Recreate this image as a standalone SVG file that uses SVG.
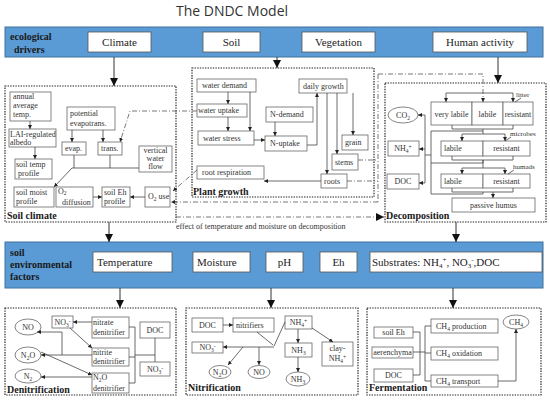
<svg xmlns="http://www.w3.org/2000/svg" width="550" height="404" viewBox="0 0 550 404">
<defs>
<marker id="a" viewBox="0 0 6 6" refX="6" refY="3" markerWidth="4" markerHeight="4" markerUnits="userSpaceOnUse" orient="auto"><path d="M0,0 L6,3 L0,6 z" fill="#222"/></marker>
<marker id="A" viewBox="0 0 6 6" refX="6" refY="3" markerWidth="8" markerHeight="8" markerUnits="userSpaceOnUse" orient="auto"><path d="M0,0 L6,3 L0,6 z" fill="#111"/></marker>
</defs>
<style>
.band{fill:#5b9bd5;stroke:#41719c;stroke-width:1}
.bb{fill:#fff;stroke:#555;stroke-width:0.8}
.panel{fill:none;stroke:#222;stroke-width:1.2;stroke-dasharray:1.4 1.2}
.box{fill:#fff;stroke:#666;stroke-width:0.8}
.t{font-family:"Liberation Serif",serif;font-size:8px;fill:#333}
.s{font-family:"Liberation Serif",serif;font-size:7px;fill:#333}
.m{text-anchor:middle}
.lbl{font-family:"Liberation Serif",serif;font-weight:bold;font-size:10px;fill:#1a1a1a}
.bt{font-family:"Liberation Serif",serif;font-size:11px;fill:#222}
.ln{stroke:#444;stroke-width:0.8;fill:none}
.mn{stroke:#333;stroke-width:1;fill:none}
.dd{stroke:#555;stroke-width:0.8;fill:none;stroke-dasharray:5 2 1 2}
.sub{font-size:5.5px}
</style>
<rect width="550" height="404" fill="#fff"/>
<text x="232" y="16" text-anchor="middle" font-family="'Open Sans',sans-serif" font-size="14" fill="#333">The DNDC Model</text>

<g id="drivers">
<rect class="band" x="5" y="27" width="538" height="30"/>
<text class="lbl" x="10" y="40">ecological</text>
<text class="lbl" x="14" y="53">drivers</text>
<rect class="bb" x="88" y="32" width="63" height="20"/><text class="bt m" x="119.5" y="46">Climate</text>
<rect class="bb" x="203" y="32" width="57" height="20"/><text class="bt m" x="231.5" y="46">Soil</text>
<rect class="bb" x="302" y="32" width="73" height="20"/><text class="bt m" x="338.5" y="46">Vegetation</text>
<rect class="bb" x="433" y="32" width="94" height="20"/><text class="bt m" x="480" y="46">Human activity</text>
</g>

<g id="soil-climate">
<rect class="panel" x="5" y="86" width="171" height="136"/>
<text class="lbl" x="7" y="219">Soil climate</text>
<rect class="box" x="10" y="92" width="41" height="29"/>
<text class="t" x="13" y="99">annual</text><text class="t" x="13" y="108">average</text><text class="t" x="13" y="117">temp.</text>
<rect class="box" x="9" y="129" width="47" height="18"/>
<text class="t" x="10" y="137">LAI-regulated</text><text class="t" x="10" y="145">albedo</text>
<rect class="box" x="15" y="159" width="37" height="20"/>
<text class="t" x="16" y="167">soil temp</text><text class="t" x="18" y="176">profile</text>
<rect class="box" x="67" y="107" width="48" height="23"/>
<text class="t" x="70" y="116">potential</text><text class="t" x="70" y="126">evapotrans.</text>
<rect class="box" x="62" y="142" width="24" height="13"/><text class="t" x="65" y="151">evap.</text>
<rect class="box" x="98" y="142" width="24" height="13"/><text class="t" x="101" y="151">trans.</text>
<rect class="box" x="139" y="146" width="33" height="26"/>
<text class="t m" x="155.5" y="153">vertical</text><text class="t m" x="155.5" y="161">water</text><text class="t m" x="155.5" y="169">flow</text>
<rect class="box" x="14" y="187" width="40" height="20"/>
<text class="t" x="16" y="195">soil moist</text><text class="t" x="16" y="204">profile</text>
<rect class="box" x="56" y="187" width="37" height="20"/>
<text class="t" x="58" y="194">O<tspan class="sub" dy="1">2</tspan></text><text class="t" x="62" y="204.5">diffusion</text>
<rect class="box" x="102" y="187" width="28" height="20"/>
<text class="t" x="104" y="195">soil Eh</text><text class="t" x="104" y="204">profile</text>
<rect class="box" x="145" y="187" width="25" height="20"/>
<text class="t" x="148" y="199">O<tspan class="sub" dy="1.5">2</tspan><tspan dy="-1.5"> use</tspan></text>
</g>

<g id="plant-growth">
<rect class="panel" x="192" y="68" width="182" height="129"/>
<text class="lbl" x="193" y="195">Plant growth</text>
<rect class="box" x="197" y="79" width="59" height="13"/><text class="t" x="202" y="88">water demand</text>
<rect class="box" x="197" y="104" width="50" height="13"/><text class="t" x="198" y="113">water uptake</text>
<rect class="box" x="198" y="131" width="56" height="14"/><text class="t" x="203" y="141">water stress</text>
<rect class="box" x="266" y="107" width="47" height="15"/><text class="t" x="270" y="117">N-demand</text>
<rect class="box" x="265" y="136" width="42" height="15"/><text class="t" x="270" y="146">N-uptake</text>
<rect class="box" x="299" y="79" width="48" height="14"/><text class="t" x="303" y="89">daily growth</text>
<rect class="box" x="342" y="135" width="26" height="15"/><text class="t" x="345" y="145">grain</text>
<rect class="box" x="332" y="154" width="26" height="16"/><text class="t" x="335" y="165">stems</text>
<rect class="box" x="321" y="174" width="26" height="14"/><text class="t" x="324" y="184">roots</text>
<rect class="box" x="197" y="166" width="67" height="13"/><text class="t" x="202" y="175">root respiration</text>
</g>

<g id="decomposition">
<rect class="panel" x="385" y="83" width="161" height="139"/>
<text class="lbl" x="386" y="219">Decomposition</text>
<rect class="box" x="431" y="102" width="41" height="23"/><text class="t m" x="451.5" y="117">very labile</text>
<rect class="box" x="472" y="102" width="31" height="23"/><text class="t m" x="487.5" y="117">labile</text>
<rect class="box" x="503" y="102" width="30" height="23"/><text class="t m" x="518" y="117">resistant</text>
<text class="s" x="516" y="97">litter</text>
<ellipse class="box" cx="403" cy="115" rx="15" ry="8"/><text class="t m" x="403" y="118">CO<tspan class="sub" dy="1.5">2</tspan></text>
<rect class="box" x="388" y="141" width="31" height="15"/><text class="t m" x="403" y="151">NH<tspan class="sub" dy="1.5">4</tspan><tspan class="sub" dy="-4">+</tspan></text>
<rect class="box" x="387" y="174" width="32" height="15"/><text class="t m" x="403" y="184">DOC</text>
<rect class="box" x="441" y="141" width="42" height="15"/><text class="t" x="444" y="151">labile</text>
<rect class="box" x="483" y="141" width="47" height="15"/><text class="t m" x="506.5" y="151">resistant</text>
<text class="s" x="510" y="136">microbes</text>
<rect class="box" x="441" y="174" width="42" height="14"/><text class="t" x="444" y="184">labile</text>
<rect class="box" x="483" y="174" width="47" height="14"/><text class="t m" x="506.5" y="184">resistant</text>
<text class="s" x="513" y="169">humads</text>
<rect class="box" x="452" y="198" width="83" height="14"/><text class="t m" x="493.5" y="208">passive humus</text>
</g>

<g id="soil-factors">
<rect class="band" x="5" y="242" width="538" height="46"/>
<text class="lbl" x="10" y="256" font-size="10.5">soil</text>
<text class="lbl" x="10" y="268" font-size="10.5">environmental</text>
<text class="lbl" x="10" y="280" font-size="10.5">factors</text>
<rect class="bb" x="93" y="252" width="79" height="20"/><text class="bt" x="97" y="266">Temperature</text>
<rect class="bb" x="193" y="252" width="57" height="20"/><text class="bt" x="197" y="266">Moisture</text>
<rect class="bb" x="266" y="252" width="37" height="20"/><text class="bt m" x="284.5" y="266">pH</text>
<rect class="bb" x="320" y="252" width="37" height="20"/><text class="bt m" x="338.5" y="266">Eh</text>
<rect class="bb" x="370" y="252" width="172" height="20"/><text class="bt" x="372" y="266">Substrates: NH<tspan font-size="7" dy="2">4</tspan><tspan font-size="7" dy="-6">+</tspan><tspan dy="4">, NO</tspan><tspan font-size="7" dy="2">3</tspan><tspan font-size="7" dy="-6">-</tspan><tspan dy="4">,DOC</tspan></text>
</g>

<g id="denitrification">
<rect class="panel" x="5" y="308" width="171" height="87"/>
<text class="lbl" x="7" y="393">Denitrification</text>
<ellipse class="box" cx="28" cy="327" rx="13" ry="8"/><text class="t m" x="28" y="330">NO</text>
<ellipse class="box" cx="28" cy="355" rx="13" ry="8"/><text class="t m" x="28" y="358">N<tspan class="sub" dy="1.5">2</tspan><tspan dy="-1.5">O</tspan></text>
<ellipse class="box" cx="28" cy="376" rx="13" ry="7"/><text class="t m" x="28" y="379">N<tspan class="sub" dy="1.5">2</tspan></text>
<rect class="box" x="52" y="316" width="21" height="12"/><text class="t m" x="62.5" y="325">NO<tspan class="sub" dy="1.5">3</tspan><tspan class="sub" dy="-4">-</tspan></text>
<rect class="box" x="92" y="317" width="37" height="21"/><text class="t" x="93" y="325">nitrate</text><text class="t" x="93" y="335">denitrifier</text>
<rect class="box" x="92" y="348" width="37" height="18"/><text class="t" x="93" y="355">nitrite</text><text class="t" x="93" y="364">denitrifier</text>
<rect class="box" x="92" y="373" width="37" height="20"/><text class="t" x="93" y="380">N<tspan class="sub" dy="1.5">2</tspan><tspan dy="-1.5">O</tspan></text><text class="t" x="93" y="390.5">denitrifier</text>
<rect class="box" x="140" y="322" width="30" height="16"/><text class="t m" x="155" y="333">DOC</text>
<rect class="box" x="140" y="362" width="30" height="14"/><text class="t m" x="155" y="372">NO<tspan class="sub" dy="1.5">3</tspan><tspan class="sub" dy="-4">-</tspan></text>
</g>

<g id="nitrification">
<rect class="panel" x="186" y="308" width="172" height="87"/>
<text class="lbl" x="188" y="391">Nitrification</text>
<rect class="box" x="192" y="318" width="31" height="14"/><text class="t m" x="207.5" y="328">DOC</text>
<rect class="box" x="233" y="318" width="41" height="14"/><text class="t" x="236" y="328">nitrifiers</text>
<rect class="box" x="285" y="316" width="27" height="13"/><text class="t m" x="298.5" y="325">NH<tspan class="sub" dy="1.5">4</tspan><tspan class="sub" dy="-4">+</tspan></text>
<rect class="box" x="192" y="342" width="31" height="11"/><text class="t m" x="207.5" y="350">NO<tspan class="sub" dy="1.5">3</tspan><tspan class="sub" dy="-4">-</tspan></text>
<rect class="box" x="285" y="343" width="27" height="14"/><text class="t m" x="298.5" y="353">NH<tspan class="sub" dy="1.5">3</tspan></text>
<rect class="box" x="322" y="342" width="31" height="24"/><text class="t m" x="337.5" y="351">clay-</text><text class="t m" x="337.5" y="361">NH<tspan class="sub" dy="1.5">4</tspan><tspan class="sub" dy="-4">+</tspan></text>
<ellipse class="box" cx="220" cy="372" rx="11" ry="6.5"/><text class="t m" x="220" y="375">N<tspan class="sub" dy="1.5">2</tspan><tspan dy="-1.5">O</tspan></text>
<ellipse class="box" cx="259" cy="372" rx="11" ry="6.5"/><text class="t m" x="259" y="375">NO</text>
<ellipse class="box" cx="298" cy="379" rx="12" ry="7"/><text class="t m" x="298" y="382">NH<tspan class="sub" dy="1.5">3</tspan></text>
</g>

<g id="fermentation">
<rect class="panel" x="367" y="308" width="174" height="87"/>
<text class="lbl" x="369" y="391">Fermentation</text>
<rect class="box" x="374" y="327" width="39" height="11"/><text class="t m" x="393.5" y="335">soil Eh</text>
<rect class="box" x="372" y="347" width="41" height="11"/><text class="t m" x="392.5" y="355">aerenchyma</text>
<rect class="box" x="374" y="369" width="39" height="13"/><text class="t m" x="393.5" y="378">DOC</text>
<rect class="box" x="431" y="319" width="67" height="14"/><text class="t" x="436" y="329">CH<tspan class="sub" dy="1.5">4</tspan><tspan dy="-1.5"> production</tspan></text>
<rect class="box" x="431" y="347" width="67" height="13"/><text class="t" x="436" y="356">CH<tspan class="sub" dy="1.5">4</tspan><tspan dy="-1.5"> oxidation</tspan></text>
<rect class="box" x="431" y="375" width="67" height="12"/><text class="t" x="436" y="384">CH<tspan class="sub" dy="1.5">4</tspan><tspan dy="-1.5"> transport</tspan></text>
<ellipse class="box" cx="516" cy="322" rx="13" ry="7"/><text class="t m" x="516" y="325">CH<tspan class="sub" dy="1.5">4</tspan></text>
</g>

<g id="connectors">
<path class="mn" d="M114,57 V86" marker-end="url(#A)"/>
<path class="mn" d="M277,57 V68" marker-end="url(#A)"/>
<path class="mn" d="M498,57 V83" marker-end="url(#A)"/>
<path class="mn" d="M109,222 V242" marker-end="url(#A)"/>
<path class="mn" d="M456,222 V242" marker-end="url(#A)"/>
<path class="mn" d="M120,288 V308" marker-end="url(#A)"/>
<path class="mn" d="M271,288 V308" marker-end="url(#A)"/>
<path class="mn" d="M453,288 V308" marker-end="url(#A)"/>
<path class="ln" d="M30,121 V129" marker-end="url(#a)"/>
<path class="ln" d="M35,147 V159" marker-end="url(#a)"/>
<path class="ln" d="M72,130 V142" marker-end="url(#a)"/>
<path class="ln" d="M103,130 V142" marker-end="url(#a)"/>
<path class="ln" d="M74,155 V168 M110,155 V168 M72,168 H139"/>
<path class="ln" d="M72,168 L54,187" marker-end="url(#a)"/>
<path class="ln" d="M93,197 H102" marker-end="url(#a)"/>
<path class="ln" d="M145,197 H130" marker-end="url(#a)"/>
<path class="dd" d="M197,111 H130 L120,142" marker-end="url(#a)"/>
<path class="dd" d="M197,170 L173,191" marker-end="url(#a)"/>
<path class="dd" d="M358,160 H378 M347,181 H378 M378,74 V202"/>
<path class="dd" d="M378,74 H483 V102" marker-end="url(#a)"/>
<path class="dd" d="M378,202 H171" marker-end="url(#a)"/>
<path class="dd" d="M176,217 H384" marker-end="url(#A)"/>
<text class="t" x="176" y="229" font-size="7.5">effect of temperature and moisture on decomposition</text>
<path class="ln" d="M228,92 V104" marker-end="url(#a)"/>
<path class="ln" d="M250,92 V131" marker-end="url(#a)"/>
<path class="ln" d="M228,117 V131" marker-end="url(#a)"/>
<path class="ln" d="M254,140 H265" marker-end="url(#a)"/>
<path class="ln" d="M275,122 V136" marker-end="url(#a)"/>
<path class="ln" d="M307,145 H317 V93" marker-end="url(#a)"/>
<path class="ln" d="M327,93 V174" marker-end="url(#a)"/>
<path class="ln" d="M337,93 V154" marker-end="url(#a)"/>
<path class="ln" d="M353,93 V135" marker-end="url(#a)"/>
<path class="ln" d="M321,181 H264" marker-end="url(#a)"/>
<path class="ln" d="M446,93 H513"/>
<path class="ln" d="M446,93 V102" marker-end="url(#a)"/>
<path class="ln" d="M513,93 V102" marker-end="url(#a)"/>
<path class="ln" d="M515,102 L521,98 M505,141 L511,137 M508,174 L514,170"/>
<path class="ln" d="M452,125 V129 H513 V125 M483,129 V134 M462,134 H505"/>
<path class="ln" d="M462,134 V141" marker-end="url(#a)"/>
<path class="ln" d="M505,134 V141" marker-end="url(#a)"/>
<path class="ln" d="M452,156 V160 H513 V156 M483,160 V168 M462,168 H505"/>
<path class="ln" d="M462,168 V174" marker-end="url(#a)"/>
<path class="ln" d="M505,168 V174" marker-end="url(#a)"/>
<path class="ln" d="M452,188 V192 H513 V188"/>
<path class="ln" d="M493,192 V198" marker-end="url(#a)"/>
<path class="ln" d="M483,131 H431 V194 H483 V192 M431,163 H483 V160 M431,155 H425 M425,115 V183"/>
<path class="ln" d="M425,115 H418" marker-end="url(#a)"/>
<path class="ln" d="M425,149 H419" marker-end="url(#a)"/>
<path class="ln" d="M425,183 H419" marker-end="url(#a)"/>
<path class="ln" d="M92,322 H73" marker-end="url(#a)"/>
<path class="ln" d="M70,328 L92,348" marker-end="url(#a)"/>
<path class="ln" d="M92,355 H41" marker-end="url(#a)"/>
<path class="ln" d="M62,355 V332 H37" marker-end="url(#a)"/>
<path class="ln" d="M41,352 L92,375" marker-end="url(#a)"/>
<path class="ln" d="M92,377 H41" marker-end="url(#a)"/>
<path class="ln" d="M129,327 H135 V383 H129 M129,357 H135 M135,355 H155 M155,338 V362"/>
<path class="ln" d="M223,325 H233" marker-end="url(#a)"/>
<path class="ln" d="M285,322 L274,346 M257,332 L273,345"/>
<path class="ln" d="M274,347 H223" marker-end="url(#a)"/>
<path class="ln" d="M243,347 L228,365" marker-end="url(#a)"/>
<path class="ln" d="M259,347 V365" marker-end="url(#a)"/>
<path class="ln" d="M298,329 V343" marker-end="url(#a)"/>
<path class="ln" d="M298,357 V372" marker-end="url(#a)"/>
<path class="ln" d="M312,328 L333,342" marker-end="url(#a)"/>
<path class="ln" d="M413,332 H420 M413,375 H420 M420,332 V375 M413,352 H425 M425,326 V381 M425,326 H431 M425,353 H431 M425,381 H431"/>
<path class="ln" d="M498,381 H516 V329" marker-end="url(#a)"/>
</g>
</svg>
